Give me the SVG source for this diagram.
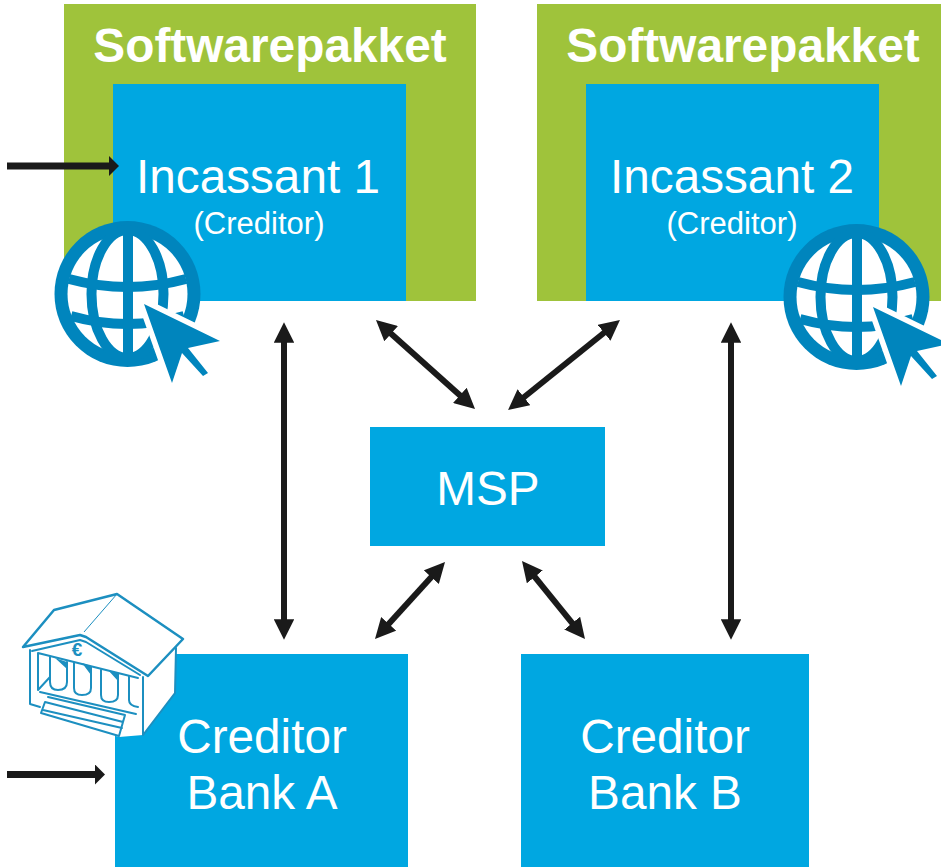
<svg xmlns="http://www.w3.org/2000/svg" width="941" height="867" viewBox="0 0 941 867">
<style>
.green{fill:#9fc33b}
.blue{fill:#00a7e1}
text{font-family:"Liberation Sans",Arial,sans-serif;fill:#fff;text-anchor:middle}
.t{font-size:47.700px}
.h{font-size:47.800px;font-weight:bold}
.s{font-size:31px}
.c{fill:none;stroke:#1a1a1a;stroke-width:6}
.g{fill:none;stroke:#0085bd;stroke-width:10}
.b{fill:none;stroke:#1c8fc0;stroke-width:2;stroke-linejoin:round;stroke-linecap:round}
</style>
<defs>
<marker id="a" viewBox="0 0 10 10" refX="5.700" refY="5" markerWidth="3.400" markerHeight="3.400" orient="auto-start-reverse"><path d="M0 0L10 5L0 10Z" fill="#1a1a1a"/></marker>
<marker id="f" viewBox="0 0 10 20" refX="1" refY="10" markerUnits="userSpaceOnUse" markerWidth="10" markerHeight="20" orient="auto"><path d="M0 0L10 10L0 20Z" fill="#1a1a1a"/></marker>
<g id="globe">
<circle cx="127.500" cy="294" r="73" fill="#0085bd"/>
<circle cx="127.500" cy="294" r="60" fill="#fff"/>
<ellipse cx="127.500" cy="294" rx="36" ry="64" class="g"/>
<path d="M128 232V356" class="g"/>
<path d="M69 279Q127.500 295 186 279M71 316Q127.500 332 184 316" class="g"/>
<path d="M144 304L220 341L188 348L208 373L203 376L182 353L172 383Z" fill="#0085bd" stroke="#fff" stroke-width="11" paint-order="stroke" stroke-linejoin="miter"/>
</g>
</defs>
<g id="softwarepakket-1"><rect x="64" y="4" width="412" height="297" class="green"/><text x="270" y="62" class="h">Softwarepakket</text></g>
<g id="incassant-1"><rect x="113" y="84" width="293" height="217" class="blue"/><text x="258" y="193" class="t">Incassant 1</text><text x="259" y="234" class="s">(Creditor)</text></g>
<g id="softwarepakket-2"><rect x="537" y="4" width="404" height="297" class="green"/><text x="743" y="62" class="h">Softwarepakket</text></g>
<g id="incassant-2"><rect x="586" y="84" width="293" height="217" class="blue"/><text x="732" y="193" class="t">Incassant 2</text><text x="732" y="234" class="s">(Creditor)</text></g>
<g id="msp"><rect x="370" y="427" width="235" height="119" class="blue"/><text x="488" y="505" class="t">MSP</text></g>
<g id="bank-a"><rect x="115" y="654" width="293" height="213" class="blue"/><text x="262" y="753" class="t">Creditor</text><text x="262" y="809" class="t">Bank A</text></g>
<g id="bank-b"><rect x="521" y="654" width="288" height="213" class="blue"/><text x="665" y="753" class="t">Creditor</text><text x="665" y="809" class="t">Bank B</text></g>
<g id="globe-1"><use href="#globe"/></g>
<g id="globe-2"><use href="#globe" x="729" y="3"/></g>
<g id="bank-icon">
<path d="M30 648L54 610L117 594L176 648L175 693L143 735L119 737L41 713L46 702L30 704Z" fill="#fff"/>
<path d="M23 647L54 610L117 594L183 639L148 676L86 637L80 635L23 647Z" class="b" fill="#fff" style="stroke-width:2.500"/>
<path d="M84 632L117 594" fill="none" stroke="#1c8fc0" stroke-width="1"/>
<path d="M32 651L80 640L86 642L140 675M30 650V704L40 707M38 653L138 678M38 653V690L50 677M143 677V735M176 648L175 693L143 735M40 692L136 714" class="b"/>
<path d="M50 657V682Q50 690 58 690Q67 690 67 682V662M74 663V688Q74 695 82 695Q91 695 91 688V667M101 670V695Q101 702 109 702Q118 702 118 695V674M129 676V700Q129 706 138 707" class="b"/>
<path d="M55 658L67 662V669ZM82 663L91 666V675ZM108 670L118 673V681Z" fill="#1c8fc0"/>
<path d="M48 697L125 715L119 736L41 713L45 702L123 722M43 710L122 728" class="b"/>
<text x="77" y="656" style="font-size:19px;font-weight:bold;fill:#1c8fc0">€</text>
</g>
<g id="connectors">
<path d="M7 166H110" class="c" style="stroke-width:7" marker-end="url(#f)"/>
<path d="M7 774.500H96" class="c" style="stroke-width:7" marker-end="url(#f)"/>
<path d="M284 331V631" class="c" marker-start="url(#a)" marker-end="url(#a)"/>
<path d="M731 331V631" class="c" marker-start="url(#a)" marker-end="url(#a)"/>
<path d="M382.500 325.900L468.500 403.100" class="c" marker-start="url(#a)" marker-end="url(#a)"/>
<path d="M613.100 325.500L514.900 404.500" class="c" marker-start="url(#a)" marker-end="url(#a)"/>
<path d="M439.100 568.500L380.900 632.500" class="c" marker-start="url(#a)" marker-end="url(#a)"/>
<path d="M527.500 567.800L579.500 632.200" class="c" marker-start="url(#a)" marker-end="url(#a)"/>
</g>
</svg>
